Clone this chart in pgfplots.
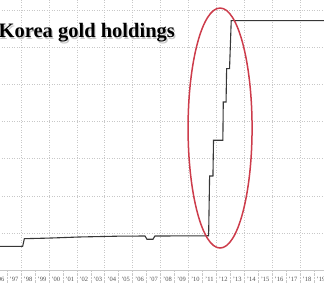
\documentclass[border=0pt]{standalone}
\usepackage{fontspec}
\setmainfont{Liberation Serif}
\usepackage{pgfplots}
\pgfplotsset{compat=1.18}
\definecolor{lineg}{RGB}{55,55,55}
\definecolor{gridg}{RGB}{200,200,200}
\definecolor{ellred}{RGB}{205,60,75}
\definecolor{tickg}{RGB}{80,80,80}
\begin{document}
\begin{tikzpicture}[x=1pt,y=1pt]
\useasboundingbox (0,0) rectangle (324,282);
\clip (0,0) rectangle (324,282);
\begin{axis}[
  at={(-20.85pt,11.8pt)}, anchor=south west,
  width=362.7pt, height=275pt, scale only axis,
  xmin=1995, xmax=2021, ymin=0, ymax=3.7,
  axis lines*=left,
  y axis line style={draw=none},
  x axis line style={draw=gridg, line width=0.5pt},
  ytick={0.5,1,1.5,2,2.5,3,3.5}, yticklabels={},
  ymajorgrids,
  major tick length=0pt,
  xtick={1996.5,1997.5,...,2019.5},
  xticklabels={'96,'97,'98,'99,'00,'01,'02,'03,'04,'05,'06,'07,'08,'09,'10,'11,'12,'13,'14,'15,'16,'17,'18,'19},
  xticklabel style={anchor=base, yshift=-10.8pt, font=\fontsize{6.5}{7.5}\selectfont, text=tickg},
  minor xtick={1995,1996,...,2021},
  minor tick length=14pt,
  tick align=outside,
  minor tick style={draw=gridg, line width=0.4pt, densely dotted},
  extra x ticks={1996,1998,...,2020},
  extra x tick labels={},
  extra x tick style={grid=major, major tick length=0pt},
  grid style={draw=gridg, line width=0.5pt, dotted},
  clip=false,
]
\addplot[lineg, line width=1.1pt] coordinates {
 (1995,0.3215) (1998.12,0.3215) (1998.24,0.424) (2000,0.432) (2002.2,0.447)
 (2005,0.458) (2006.89,0.460) (2007.03,0.416) (2007.46,0.416) (2007.6,0.460)
 (2011.45,0.463) (2011.52,1.267) (2011.76,1.267) (2011.80,1.749)
 (2012.47,1.749) (2012.50,2.263) (2012.70,2.263) (2012.74,2.713)
 (2012.95,2.713) (2013.07,3.357) (2021,3.357)
};
\draw[ellred, line width=1.5pt] (axis cs:2012.27,1.913) ellipse [x radius=32pt, y radius=120pt];
\end{axis}
\node[anchor=base west, inner sep=0pt, text=black!22, font=\bfseries\fontsize{20.5}{24}\selectfont] at (-0.3,242.8) {Korea gold holdings};
\node[anchor=base west, inner sep=0pt, font=\bfseries\fontsize{20.5}{24}\selectfont] at (-1.5,244) {Korea gold holdings};
\end{tikzpicture}
\end{document}
